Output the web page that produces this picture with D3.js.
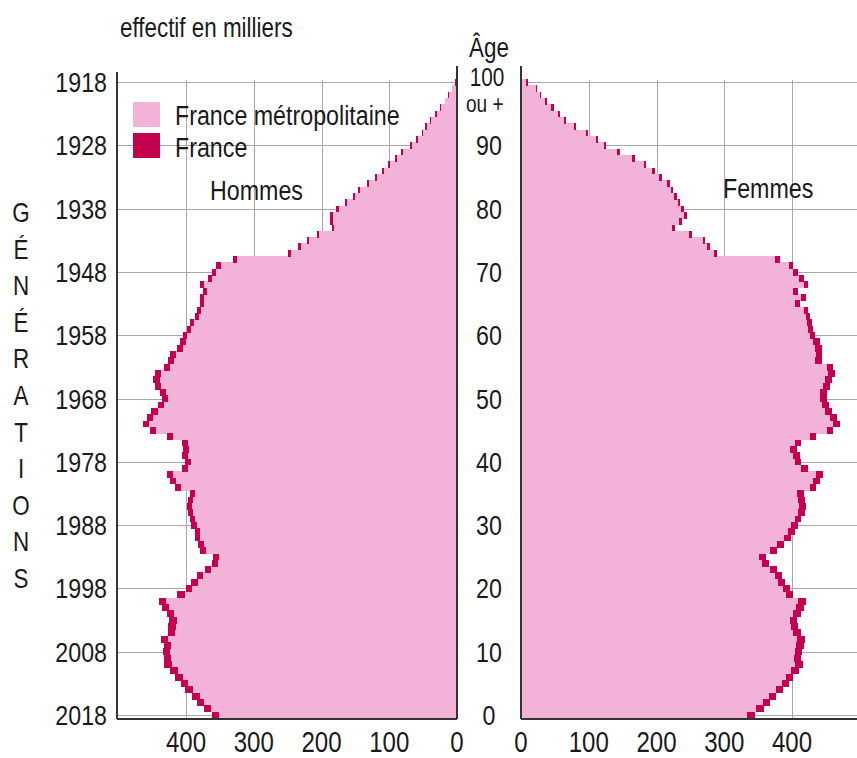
<!doctype html>
<html>
<head>
<meta charset="utf-8"/>
<title>Pyramide des âges</title>
<script src="https://d3js.org/d3.v7.min.js"></script>
<style>
body { margin: 0; background: white; }
svg text { font-family: "Liberation Sans", Arial, sans-serif; fill: #1a1a1a; }
</style>
</head>
<body>
<svg id="svg1"></svg>
<script>
// ages 0 .. 100 ("100 ou +")
const ages = d3.range(0, 101)

// effectifs en milliers, indexés par âge (0 -> 100)
const hommesFrance = [
  362, 374, 384, 391, 401, 408, 416, 423, 432, 433,
  434, 433, 437, 427, 426, 425, 428, 436, 440, 413,
  400, 392, 384, 372, 362, 360, 379, 382, 387, 387,
  392, 394, 397, 399, 397, 394, 416, 424, 428, 406,
  401, 406, 404, 406, 428, 453, 463, 458, 451, 441,
  436, 438, 446, 448, 446, 433, 426, 424, 414, 409,
  404, 399, 394, 387, 384, 379, 379, 375, 379, 367,
  362, 355, 330, 249, 234, 222, 207, 185, 187, 187,
  178, 165, 153, 146, 133, 121, 111, 102, 92, 82,
  69, 60, 52, 47, 40, 32, 25, 18, 13, 8,
  3]
const hommesMetro = [
  351, 363, 373, 380, 390, 397, 405, 412, 421, 422,
  423, 422, 426, 416, 415, 414, 417, 425, 429, 402,
  391, 383, 375, 363, 353, 351, 371, 374, 379, 379,
  384, 386, 389, 391, 389, 386, 407, 415, 419, 397,
  392, 397, 395, 397, 419, 444, 454, 449, 442, 432,
  427, 429, 437, 439, 437, 424, 417, 415, 405, 400,
  398, 393, 388, 381, 378, 373, 373, 369, 373, 361,
  356, 349, 324, 245, 230, 218, 203, 181, 183, 183,
  174, 162, 150, 143, 130, 118, 108, 99, 89, 79,
  66, 58, 50, 45, 38, 30, 24, 17, 12, 7,
  2]
const femmesFrance = [
  345, 358, 368, 377, 387, 396, 402, 410, 416, 414,
  415, 417, 419, 413, 409, 408, 413, 417, 420, 402,
  397, 390, 385, 378, 366, 362, 378, 388, 398, 404,
  409, 414, 419, 421, 419, 417, 436, 441, 446, 424,
  414, 412, 407, 414, 436, 461, 471, 466, 459, 454,
  451, 451, 456, 459, 463, 461, 444, 445, 444, 441,
  434, 431, 429, 427, 424, 412, 421, 409, 424, 417,
  409, 402, 382, 289, 279, 272, 252, 227, 237, 245,
  240, 235, 230, 225, 220, 208, 198, 185, 168, 146,
  126, 114, 99, 81, 67, 58, 48, 38, 30, 24,
  10]
const femmesMetro = [
  334, 347, 357, 366, 376, 385, 391, 399, 405, 403,
  404, 406, 408, 402, 398, 397, 402, 406, 409, 391,
  387, 380, 375, 368, 356, 352, 368, 378, 388, 394,
  399, 404, 409, 411, 409, 407, 426, 431, 436, 414,
  404, 402, 397, 404, 426, 451, 461, 456, 449, 444,
  441, 441, 446, 449, 453, 451, 434, 435, 434, 431,
  427, 424, 422, 420, 417, 405, 414, 402, 417, 410,
  402, 395, 375, 285, 275, 268, 248, 223, 233, 241,
  236, 231, 226, 221, 216, 204, 194, 181, 164, 142,
  122, 110, 96, 78, 64, 55, 45, 36, 28, 22,
  8]

const xTicks = [0, 100, 200, 300, 400]
const ageTicks = [0, 10, 20, 30, 40, 50, 60, 70, 80, 90]
const generations = [1918, 1928, 1938, 1948, 1958, 1968, 1978, 1988, 1998, 2008, 2018]
const refYear = 2018
const legend = [
  {label: 'France métropolitaine', color: '#f3b2d7'},
  {label: 'France', color: '#c5004f'}
]
const sideLetters = 'GÉNÉRATIONS'.split('')

const width = 857
const height = 758
const pink = '#f3b2d7'
const dark = '#c5004f'
const gridColor = '#a8a8a8'
const axisColor = '#333'
const narrow = 0.83   // condensed look

const svg = d3.select('#svg1')
    .attr('width', width)
    .attr('height', height)

// text helper: condensed horizontally
function label(x, y, txt, size, anchor='start') {
    return svg.append('text')
        .attr('transform', `translate(${x},${y}) scale(${narrow},1)`)
        .attr('text-anchor', anchor)
        .style('font-size', size + 'px')
        .text(txt)
}

// scales
const y = d3.scaleBand().domain(ages).range([718, 79]).padding(0)
const xL = d3.scaleLinear().domain([0, 500]).range([457, 118.25])
const xR = d3.scaleLinear().domain([0, 500]).range([521, 859.75])
const ageY = a => y(a) + y.bandwidth() / 2

const plotTop = 80, plotBottom = 718
const leftEdge = 117, rightEdge = 857

// gridlines
const grid = svg.append('g').attr('stroke', gridColor).attr('stroke-width', 1)
generations.forEach(g => {
    let yy = Math.round(ageY(refYear - g)) + 0.5
    grid.append('line').attr('x1', leftEdge).attr('x2', 457).attr('y1', yy).attr('y2', yy)
    grid.append('line').attr('x1', 521).attr('x2', rightEdge).attr('y1', yy).attr('y2', yy)
})
xTicks.filter(d => d > 0).forEach(d => {
    grid.append('line').attr('x1', Math.round(xL(d)) + 0.5).attr('x2', Math.round(xL(d)) + 0.5)
        .attr('y1', plotTop).attr('y2', plotBottom)
    grid.append('line').attr('x1', Math.round(xR(d)) + 0.5).attr('x2', Math.round(xR(d)) + 0.5)
        .attr('y1', plotTop).attr('y2', plotBottom)
})

// bars from value a to value b (a < b)
function bars(from, to, x, color) {
    svg.append('g').attr('shape-rendering', 'crispEdges').selectAll('rect')
        .data(ages)
        .join('rect')
        .attr('x', a => Math.min(x(from[a]), x(to[a])))
        .attr('y', a => y(a))
        .attr('width', a => Math.abs(x(to[a]) - x(from[a])))
        .attr('height', y.bandwidth() + 0.5)
        .attr('fill', color)
}
const zeros = ages.map(() => 0)
bars(zeros, hommesMetro, xL, pink)
bars(hommesMetro, hommesFrance, xL, dark)
bars(zeros, femmesMetro, xR, pink)
bars(femmesMetro, femmesFrance, xR, dark)

// axis lines
const axes = svg.append('g').attr('stroke', axisColor).attr('stroke-width', 2)
axes.append('line').attr('x1', leftEdge).attr('x2', leftEdge).attr('y1', 72).attr('y2', plotBottom + 1)
axes.append('line').attr('x1', 457).attr('x2', 457).attr('y1', 66).attr('y2', plotBottom + 1)
axes.append('line').attr('x1', 521).attr('x2', 521).attr('y1', 66).attr('y2', plotBottom + 1)
axes.append('line').attr('x1', leftEdge).attr('x2', 457).attr('y1', plotBottom + 1).attr('y2', plotBottom + 1)
axes.append('line').attr('x1', 521).attr('x2', rightEdge).attr('y1', plotBottom + 1).attr('y2', plotBottom + 1)

// bottom tick labels
const fs = 28
xTicks.forEach(d => {
    label(xL(d), 752, d, 29, 'middle')
    label(xR(d), 752, d, 29, 'middle')
})

// generation labels
generations.forEach(g => {
    label(107, ageY(refYear - g) + 10, g, fs, 'end')
})

// age labels
ageTicks.forEach(a => {
    label(489, ageY(a) + 10, a, fs, 'middle')
})
label(487, 86, '100', 25, 'middle')
label(466, 112, 'ou +', 23)

// titles
label(489, 57, 'Âge', 27, 'middle')
label(120, 37, 'effectif en milliers', 27)
label(210, 200, 'Hommes', fs)
label(723, 198, 'Femmes', fs)

// legend
legend.forEach((d, i) => {
    svg.append('rect').attr('x', 133).attr('y', 102 + i * 31).attr('width', 27).attr('height', 25)
        .attr('fill', d.color)
    label(175, 125 + i * 32, d.label, fs)
})

// vertical "GÉNÉRATIONS"
sideLetters.forEach((c, i) => {
    label(21, 222 + i * 36.6, c, 27, 'middle')
})
</script>
</body>
</html>
